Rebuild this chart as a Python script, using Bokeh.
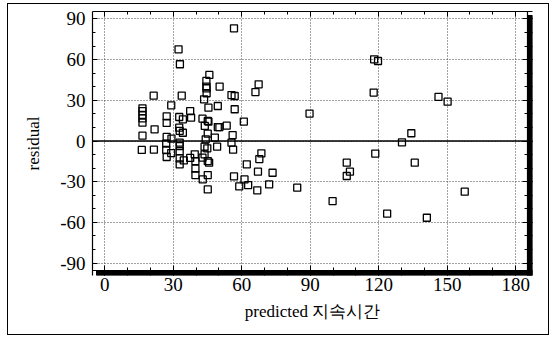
from bokeh.plotting import figure
from bokeh.models import Range1d, FixedTicker, LinearAxis, Span
from bokeh.embed import file_html
from bokeh.resources import INLINE
import numpy as np

# ---- data ----
predicted = [16.5, 16.5, 16.5, 16.5, 16.5, 16.5, 16.2, 21.4, 21.8, 21.5,
             27.1, 27.1, 27.1, 26.9, 26.9, 27.1, 29.1, 29.2, 29.1, 32.3,
             32.9, 32.6, 32.6, 32.8, 32.8, 32.8, 32.8, 32.8, 32.8, 33.7,
             34.2, 34.2, 34.6, 37.4, 37.8, 37.4, 39.4, 39.7, 39.7, 39.7,
             42.8, 42.8, 42.9, 43.5, 43.8, 44.2, 43.7, 43.7, 44.5, 44.5,
             44.6, 44.6, 45.1, 45.1, 44.9, 45.1, 45.1, 45.1, 45.4, 45.8,
             45.7, 45.4, 48.2, 49.2, 49.5, 49.5, 50.2, 50.3, 53.4, 55.5,
             56.0, 55.5, 56.2, 56.6, 56.6, 56.9, 56.9, 58.9, 60.9, 61.2,
             62.2, 62.8, 66.0, 67.4, 67.1, 67.7, 68.6, 66.8, 72.0, 73.5,
             84.3, 89.7, 99.8, 106.0, 106.0, 107.4, 118.0, 119.7, 117.8, 118.5,
             123.7, 130.2, 134.3, 135.8, 141.1, 146.2, 150.2, 157.7]
residual = [24.1, 22.1, 19.2, 16.7, 13.5, 3.9, -6.6, 33.4, 8.6, -6.4,
            18.2, 13.3, 3.0, -2.0, -6.6, -11.8, 26.3, 1.7, -8.9, 67.6,
            56.6, 17.7, 9.8, 7.4, -1.2, -3.7, -7.4, -12.8, -17.2, 33.4,
            16.0, 6.1, -14.3, 22.1, 17.2, -12.5, -9.8, -14.8, -20.4, -25.1,
            16.5, -12.3, -28.3, 30.7, 11.1, 1.2, -4.2, -9.8, 44.3, 40.1,
            38.8, 35.2, 14.8, 5.4, -5.4, -14.8, -25.1, -35.7, 24.6, 48.7,
            -16.0, 14.3, 2.5, -4.2, 25.8, 10.3, 10.3, 40.1, 11.3, 33.9,
            4.4, -1.2, -6.4, -26.1, 83.1, 33.2, 23.4, -33.4, 14.3, -28.3,
            -17.2, -32.5, 36.1, 41.8, -22.6, -13.3, -9.1, -36.4, -32.0, -23.4,
            -34.4, 20.2, -44.3, -16.0, -25.8, -22.6, 60.2, 59.0, 35.7, -9.3,
            -53.6, -1.0, 5.7, -16.0, -56.6, 32.5, 29.0, -37.4]

x_ticks = [0, 30, 60, 90, 120, 150, 180]
x_tick_labels = ["0", "30", "60", "90", "120", "150", "180"]
y_ticks = [-90, -60, -30, 0, 30, 60, 90]
y_tick_labels = ["-90", "-60", "-30", "0", "30", "60", "90"]

x_title = "predicted 지속시간"
y_title = "residual"

SERIF = "Liberation Serif"

# visible plot box (data units) and drop shadow width (px)
X0, X1 = -5.4, 185.2
Y0, Y1 = -95.5, 95.5
FW, FH = 440, 264          # frame size incl. shadow
SH = 5                     # shadow thickness, px
SHOFF = 4                  # shadow start offset, px
px_x = (FW - SH) / (X1 - X0)
px_y = (FH - SH) / (Y1 - Y0)
XE = X1 + SH / px_x
YE = Y0 - SH / px_y

x_minor = list(np.arange(0, 181, 10))
y_minor = list(np.arange(-90, 91, 10))

p = figure(width=540, height=330, output_backend="svg", toolbar_location=None,
           x_range=Range1d(X0, XE), y_range=Range1d(YE, Y1),
           min_border_left=84, min_border_right=16, min_border_top=7,
           min_border_bottom=59, background_fill_color="white",
           border_fill_color="white")
p.margin = (4, 4, 4, 8)
p.styles = {"outline": "1px solid black"}
p.outline_line_color = None

def style_axis(ax, show_labels, line=True, tick_in=5, minor_in=3):
    ax.axis_line_color = "black" if line else None
    ax.axis_line_width = 1.2
    ax.major_tick_in = tick_in
    ax.major_tick_out = 0
    ax.minor_tick_in = minor_in
    ax.minor_tick_out = 0
    ax.major_tick_line_color = "black"
    ax.minor_tick_line_color = "black"
    if not show_labels:
        ax.major_label_standoff = 0
        ax.major_label_text_font_size = "1px"

xa = p.xaxis[0]
xa.ticker = FixedTicker(ticks=x_ticks, minor_ticks=x_minor)
xa.major_label_overrides = dict(zip(x_ticks, x_tick_labels))
style_axis(xa, True, line=False, tick_in=5 + SH, minor_in=3 + SH)
xa.major_label_text_font = SERIF
xa.major_label_text_font_size = "19px"
xa.major_label_text_color = "black"
xa.major_label_standoff = 2
xa.axis_label = x_title
xa.axis_label_text_font = SERIF
xa.axis_label_text_font_size = "17px"
xa.axis_label_text_font_style = "normal"
xa.axis_label_text_color = "black"
xa.axis_label_standoff = 8

ya = p.yaxis[0]
ya.ticker = FixedTicker(ticks=y_ticks, minor_ticks=y_minor)
ya.major_label_overrides = dict(zip(y_ticks, y_tick_labels))
style_axis(ya, True)
ya.major_label_text_font = SERIF
ya.major_label_text_font_size = "19px"
ya.major_label_text_color = "black"
ya.major_label_standoff = 7
ya.axis_label = y_title
ya.axis_label_text_font = SERIF
ya.axis_label_text_font_size = "17px"
ya.axis_label_text_font_style = "normal"
ya.axis_label_text_color = "black"
ya.axis_label_standoff = 14

top = LinearAxis(ticker=FixedTicker(ticks=x_ticks, minor_ticks=x_minor))
top.major_label_overrides = {t: "" for t in x_ticks}
style_axis(top, False)
p.add_layout(top, "above")
right = LinearAxis(ticker=FixedTicker(ticks=y_ticks, minor_ticks=y_minor))
right.major_label_overrides = {t: "" for t in y_ticks}
style_axis(right, False, line=False, tick_in=5 + SH, minor_in=3 + SH)
p.add_layout(right, "right")

p.xgrid.ticker = FixedTicker(ticks=x_ticks)
p.ygrid.ticker = FixedTicker(ticks=y_ticks)
for g in (p.xgrid[0], p.ygrid[0]):
    g.grid_line_color = "#444444"
    g.grid_line_dash = "1 2"
    g.grid_line_width = 1

p.add_layout(Span(location=0, dimension="width", line_color="black", line_width=1.6))

p.scatter(predicted, residual, marker="square", size=7, fill_color=None,
          line_color="black", line_width=1.3)

# drop shadow along right and bottom of the box
p.quad(left=[X1, X0 + SHOFF / px_x], right=[XE, XE],
       bottom=[YE, YE], top=[Y1 - SHOFF / px_y, Y0],
       fill_color="black", line_color="black", line_width=1)
# right and bottom edges of the box
p.add_layout(Span(location=X1, dimension="height", line_color="black", line_width=1.2))
p.add_layout(Span(location=Y0, dimension="width", line_color="black", line_width=1.2))

open("out.html", "w").write(file_html(p, INLINE))
